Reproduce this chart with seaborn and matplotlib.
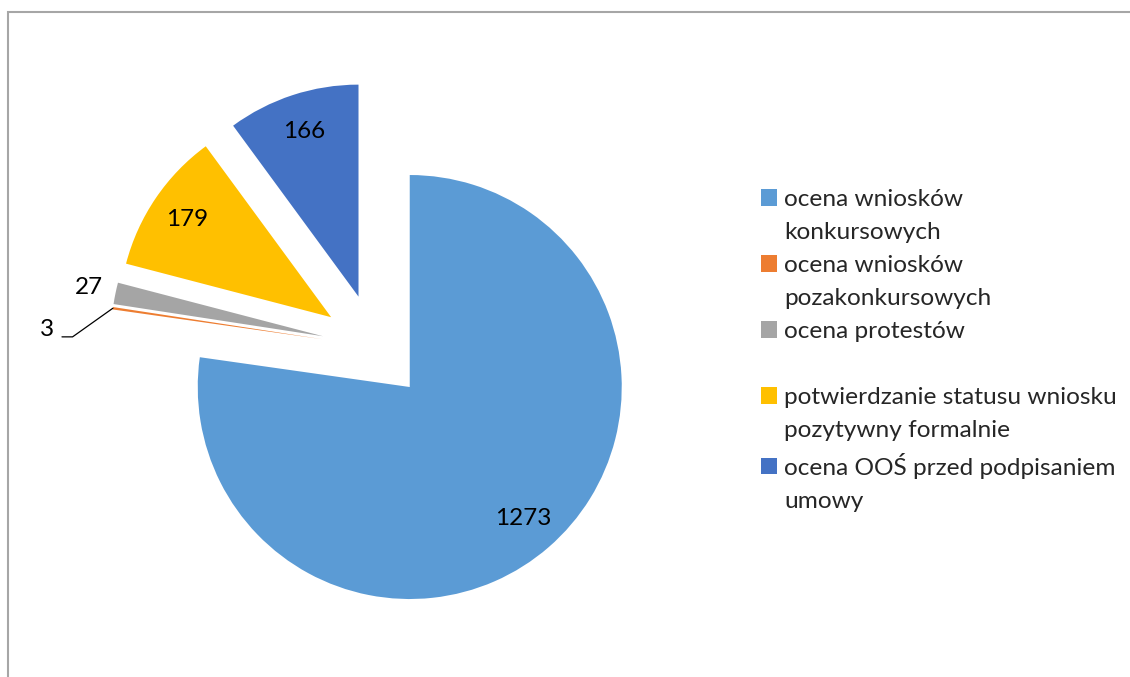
import numpy as np
import matplotlib
matplotlib.use("Agg")
import matplotlib.pyplot as plt
from matplotlib.patches import Patch, Rectangle
import seaborn as sns

# ---- data ----
categories = [
    "ocena wniosków\nkonkursowych",
    "ocena wniosków\npozakonkursowych",
    "ocena protestów\n",
    "potwierdzanie statusu wniosku\npozytywny formalnie",
    "ocena OOŚ przed podpisaniem\numowy",
]
values = [1273, 3, 27, 179, 166]
colors = ["#5B9BD5", "#ED7D31", "#A5A5A5", "#FFC000", "#4472C4"]

sns.set_theme(style="white")
plt.rcParams["font.family"] = ["Lato", "DejaVu Sans"]

W, H = 1130, 677
R_PX = 212.0          # pie radius in pixels
CX, CY = 375.0, 347.0  # pie centre in pixels (from top-left)

fig = plt.figure(figsize=(W / 100, H / 100), dpi=100)
ax = fig.add_axes([0, 0, 1, 1])

total = sum(values)
wedges, texts, autotexts = ax.pie(
    values,
    colors=colors,
    startangle=90,
    counterclock=False,
    explode=[0.25] * len(values),
    wedgeprops=dict(linewidth=0),
    autopct=lambda p: f"{round(p * total / 100):d}",
    pctdistance=0.82,
    textprops=dict(fontsize=17.5, color="black"),
)

# small slices: labels outside
for i, t in enumerate(autotexts):
    if values[i] >= 100:
        continue
    w = wedges[i]
    mid = np.deg2rad((w.theta1 + w.theta2) / 2)
    cx, cy = w.center
    if values[i] >= 10:
        t.set_position((cx + 1.13 * np.cos(mid), cy + 1.13 * np.sin(mid)))
    else:
        px, py = cx + np.cos(mid), cy + np.sin(mid)
        ex, ey = px - 0.19, py - 0.135
        fx = ex - 0.05
        ax.plot([px, ex, fx], [py, ey, ey], color="black", lw=0.9)
        t.set_position((fx - 0.035, ey + 0.035))
        t.set_ha("right")

ax.set_xlim(-CX / R_PX, (W - CX) / R_PX)
ax.set_ylim(-(H - CY) / R_PX, CY / R_PX)
ax.set_aspect("equal")
ax.axis("off")

# legend: one row per text line, swatch only on the first line
handles, labels = [], []
for cat, col in zip(categories, colors):
    for j, line in enumerate(cat.split("\n")):
        if j == 0:
            handles.append(Patch(facecolor=col, edgecolor="none"))
        else:
            handles.append(Patch(facecolor="none", edgecolor="none"))
        labels.append(line if line else " ")

fig.legend(
    handles, labels,
    loc="upper left",
    bbox_to_anchor=(761 / W, 1 - 189 / H),
    frameon=False,
    fontsize=17.6,
    handlelength=0.66,
    handleheight=0.66,
    handletextpad=0.3,
    labelspacing=0.49,
    borderpad=0,
    borderaxespad=0,
)

# chart border (cropped on right/bottom like the reference)
fig.patches.append(Rectangle((8 / W, -0.5), 2, 1.5 - 12 / H, transform=fig.transFigure,
                             fill=False, edgecolor="#a6a6a6", lw=1.5))

fig.savefig("out.png", dpi=100)
